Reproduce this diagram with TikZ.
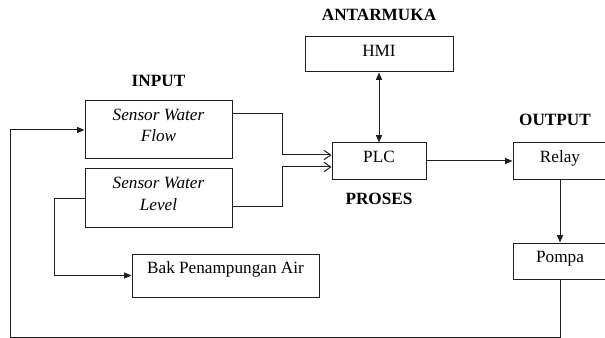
\documentclass[tikz,border=0pt]{standalone}
\usepackage{fontspec}
\setmainfont{Liberation Serif}
\usepackage{tikz}
\usetikzlibrary{arrows.meta, positioning}
\definecolor{blkLine}{HTML}{1E1E1E}
\newcommand{\dgmfont}{\fontsize{12.9pt}{16pt}\selectfont}

\begin{document}
\begin{tikzpicture}[
  x=0.75pt, y=-0.75pt,
  font=\dgmfont,
  box/.style={draw=blkLine, line width=0.75pt, inner xsep=2pt, inner ysep=0pt,
              align=center, text height=14.6pt},
  sensor/.style={box, font=\dgmfont\itshape, minimum width=110.25pt,
                 text height=30.75pt, text depth=12.75pt},
  head/.style={font=\dgmfont\bfseries, inner sep=0pt},
  arr/.style={-{Triangle[length=5.5pt,width=4.5pt]}, line width=0.75pt, color=blkLine},
  dblarr/.style={{Triangle[length=5.5pt,width=4.5pt]}-{Triangle[length=5.5pt,width=4.5pt]},
                 line width=0.75pt, color=blkLine},
  inarr/.style={-{Straight Barb[length=5pt,width=7pt]}, line width=0.75pt, color=blkLine}
]
  \useasboundingbox (0,0) rectangle (605,338);
  % Input
  \node[sensor] (flow) at (158.5,130) {Sensor Water\\Flow};
  \node[sensor] (level) at (158.5,198) {Sensor Water\\Level};
  \node[box, minimum width=140.25pt, text depth=17.65pt] (bak) at (225.5,275.5) {Bak Penampungan Air};
  % Proses dan antarmuka
  \node[box, minimum width=111pt, text depth=11.65pt] (hmi) at (379,54.5) {HMI};
  \node[box, minimum width=70.5pt, text depth=12.4pt] (plc) at (379,161) {PLC};
  % Output
  \node[box, minimum width=70.5pt, text depth=12.4pt] (relay) at (560,161) {Relay};
  \node[box, minimum width=70.5pt, text depth=12.4pt] (pompa) at (560,261) {Pompa};
  \coordinate (loop) at (10,337);

  \node[head, above=10pt of flow] (input) {INPUT};
  \node[head, above=11.6pt of hmi] (antarmuka) {ANTARMUKA};
  \node[head, below=10pt of plc] (proses) {PROSES};
  \node[head, above=12.4pt of relay, xshift=-3.75pt] (output) {OUTPUT};

  \draw[inarr] ([yshift=12pt]flow.east) -- ++(50,0) |- ([yshift=4.5pt]plc.west);
  \draw[inarr] ([yshift=-6pt]level.east) -- ++(50,0) |- ([yshift=-4.5pt]plc.west);
  \draw[dblarr] (hmi) -- (plc);
  \draw[arr] (plc) -- (relay);
  \draw[arr] (relay) -- (pompa);
  \draw[arr] (pompa.south) |- (loop) |- (flow.west);
  \draw[arr] (level.west) -- ++(-30,0) |- (bak.west);
\end{tikzpicture}
\end{document}
